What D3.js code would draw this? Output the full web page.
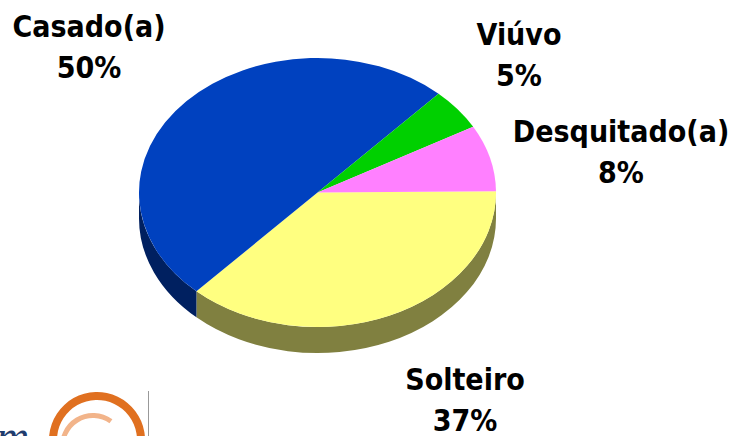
<!DOCTYPE html>
<html>
<head>
  <meta charset="utf-8">
  <script src="https://d3js.org/d3.v7.min.js"></script>
  <style>
    body { margin: 0; background: #fff; }
    .label {
      font-family: "DejaVu Sans Condensed", "DejaVu Sans", sans-serif;
      font-stretch: condensed;
      font-weight: bold;
      font-size: 30px;
      text-anchor: middle;
      fill: #000;
    }
  </style>
</head>
<body>
  <div id="chart"></div>

  <script>
    // data, in drawing order (clockwise from the right)
    var categories = ["Solteiro", "Casado(a)", "Viúvo", "Desquitado(a)"];
    var values = [37, 50, 5, 8];
    var percentLabels = ["37%", "50%", "5%", "8%"];
    var topColors = ["#ffff80", "#0041bf", "#00d000", "#ff80ff"];
    var sideColors = ["#808040", "#002060", "#006800", "#804080"];

    var width = 736, height = 436;
    var cx = 317.5, cy = 192.5, rx = 178.5, ry = 134.5, depth = 26;

    // hand placed label anchors (x center, baseline of first line)
    var labelPos = [[465, 390], [89, 37], [519, 45], [621, 142]];

    var svg = d3.select("#chart")
      .append("svg")
      .attr("width", width)
      .attr("height", height);

    var startDeg = 89.5;
    var pie = d3.pie()
      .sort(null)
      .value(function(d) { return d; })
      .startAngle(startDeg * Math.PI / 180)
      .endAngle(startDeg * Math.PI / 180 + 2 * Math.PI);

    var arcs = pie(values);

    // d3 angle (from 12 o'clock) -> screen angle (from 3 o'clock, y down)
    function scr(a) { return a - Math.PI / 2; }
    function pt(t, dy) {
      return [cx + rx * Math.cos(t), cy + (dy || 0) + ry * Math.sin(t)];
    }

    // side walls, only the front half shows
    arcs.forEach(function(d, i) {
      var s = scr(d.startAngle), e = scr(d.endAngle);
      var a = Math.max(s, 0), b = Math.min(e, Math.PI);
      if (b <= a) return;
      var p1 = pt(a), p2 = pt(b), p3 = pt(b, depth), p4 = pt(a, depth);
      var path = "M" + p1 + " A" + rx + "," + ry + " 0 0 1 " + p2 +
        " L" + p3 + " A" + rx + "," + ry + " 0 0 0 " + p4 + " Z";
      svg.append("path")
        .attr("d", path)
        .attr("fill", sideColors[i]);
    });

    // top face
    svg.selectAll(".slice")
      .data(arcs)
      .enter()
      .append("path")
      .attr("class", "slice")
      .attr("d", function(d) {
        var s = scr(d.startAngle), e = scr(d.endAngle);
        var large = (e - s) > Math.PI ? 1 : 0;
        return "M" + cx + "," + cy + " L" + pt(s) +
          " A" + rx + "," + ry + " 0 " + large + " 1 " + pt(e) + " Z";
      })
      .attr("fill", function(d, i) { return topColors[i]; });

    // labels
    categories.forEach(function(c, i) {
      var t = svg.append("text")
        .attr("class", "label")
        .attr("x", labelPos[i][0])
        .attr("y", labelPos[i][1]);
      t.append("tspan").attr("x", labelPos[i][0]).text(c);
      t.append("tspan").attr("x", labelPos[i][0]).attr("dy", 41).text(percentLabels[i]);
    });

    // logo remnant bottom left
    var logo = svg.append("g");
    logo.append("text")
      .attr("x", -4)
      .attr("y", 452)
      .attr("font-family", "Liberation Serif, serif")
      .attr("font-style", "italic")
      .attr("font-size", 46)
      .attr("fill", "#1f3c6e")
      .text("m");
    logo.append("path")
      .attr("d", d3.arc().innerRadius(40).outerRadius(48)
        .startAngle(-Math.PI * 0.62).endAngle(Math.PI * 0.6)())
      .attr("transform", "translate(97,440)")
      .attr("fill", "#e07020");
    logo.append("path")
      .attr("d", d3.arc().innerRadius(28).outerRadius(33)
        .startAngle(-Math.PI * 0.55).endAngle(Math.PI * 0.2)())
      .attr("transform", "translate(93,446)")
      .attr("fill", "#f2b48a");
    logo.append("line")
      .attr("x1", 148.5).attr("x2", 148.5)
      .attr("y1", 391).attr("y2", 436)
      .attr("stroke", "#999")
      .attr("stroke-width", 1);
  </script>
</body>
</html>
